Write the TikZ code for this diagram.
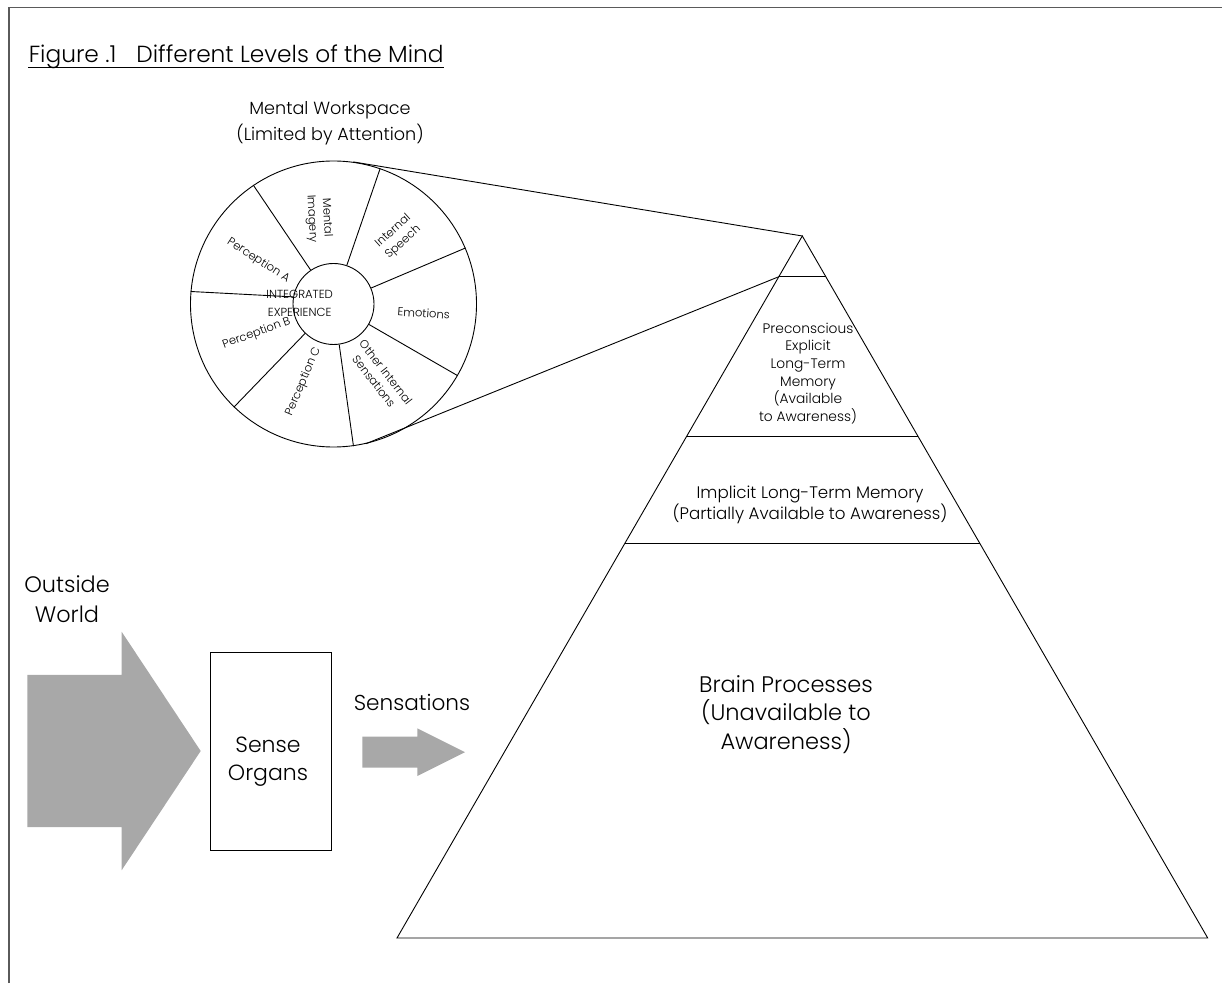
\documentclass[tikz,border=0pt]{standalone}
\usepackage{fontspec}
\setmainfont{Poppins}[UprightFont={* Light}]
\usetikzlibrary{calc}

\definecolor{arrowgray}{RGB}{168,168,168}
\definecolor{framegray}{RGB}{90,90,90}
\tikzset{
  wheeltxt/.style={font=\fontsize{11.5}{15}\selectfont, align=center, inner sep=0pt},
  blocktxt/.style={align=center, inner sep=0pt},
}

\begin{document}
\begin{tikzpicture}[x=1pt, y=1pt, line width=0.9pt]
    \useasboundingbox (0,0) rectangle (1222,983);
    % Draw frame and title
    \draw[framegray, line width=1.6pt] (9,0) -- (9,975.5) -- (1222,975.5);
    \node[anchor=base west, inner sep=0pt, font=\fontsize{23.3}{28}\selectfont] (title) at (28.3,920) {Figure .1\hspace{20pt}Different Levels of the Mind};
    \draw[line width=1.1pt] ([yshift=-4.7pt]title.base west) -- ([yshift=-4.7pt]title.base east);

    % Draw mental workspace wheel
    \node[blocktxt, font=\fontsize{17.6}{25.7}\selectfont] (workspace) at (330,860) {Mental Workspace\\(Limited by Attention)};
    \node[circle, draw, minimum size=286pt, inner sep=0pt] (outer) at (333.5,679) {};
    \node[circle, draw, minimum size=81pt, inner sep=0pt] (hub) at (333.5,679) {};
    \foreach \a in {124,71,23,330,278,226}
        \draw (hub.\a) -- (outer.\a);
    \draw (outer.175) -- (hub.170);
    \node[wheeltxt, rotate=-33] (percA) at (258.3,722.3) {Perception A};
    \node[wheeltxt, rotate=-87] (imagery) at (319,764.7) {Mental\\Imagery};
    \node[wheeltxt, rotate=42] (speech) at (398.3,746.3) {Internal\\Speech};
    \node[wheeltxt, rotate=-4] (emotions) at (423.7,669.7) {Emotions};
    \node[wheeltxt, rotate=-52] (other) at (380,606.3) {Other Internal\\Sensations};
    \node[wheeltxt, rotate=67] (percC) at (303.3,601.3) {Perception C};
    \node[wheeltxt, rotate=20] (percB) at (256.7,649.7) {Perception B};
    \node[wheeltxt, font=\fontsize{11.7}{17.3}\selectfont] (integ) at (299.7,679.7) {INTEGRATED\\EXPERIENCE};

    % Draw pyramid of levels
    \coordinate (apex) at (802.3,747);
    \coordinate (bl) at (397,45);
    \coordinate (br) at (1207.7,45);
    \draw (apex) -- (bl) -- (br) -- cycle;
    \foreach \t [count=\i] in {0.058,0.2853,0.4377}
        \draw ($(apex)!\t!(bl)$) coordinate (lft\i) -- ($(apex)!\t!(br)$) coordinate (rgt\i);
    \draw (outer.82) -- (apex);
    \draw (outer.283) -- (lft1);
    \node[blocktxt, font=\fontsize{13.8}{17.7}\selectfont] (precon) at (808,609.5) {Preconscious\\Explicit\\Long-Term\\Memory\\(Available\\to Awareness)};
    \node[blocktxt, font=\fontsize{16.7}{21.7}\selectfont] (implicit) at (810,478) {Implicit Long-Term Memory\\(Partially Available to Awareness)};
    \node[blocktxt, font=\fontsize{22.5}{28.3}\selectfont] (brain) at (786,268.5) {Brain Processes\\(Unavailable to\\Awareness)};

    % Draw outside world and senses
    \node[blocktxt, font=\fontsize{22.4}{30}\selectfont] (world) at (67,384) {Outside\\World};
    \fill[arrowgray] (27.3,308.2) -- (121.7,308.2) -- (121.7,351.2) -- (200.7,232) -- (121.7,112.8) -- (121.7,155.8) -- (27.3,155.8) -- cycle;
    \node[draw, minimum width=121.7pt, minimum height=197.3pt, inner sep=0pt] (sense) at (270.85,231.65) {};
    \node[blocktxt, font=\fontsize{22}{28}\selectfont] (sensetxt) at (268,221) {Sense\\Organs};
    \node[inner sep=0pt, font=\fontsize{21.6}{26}\selectfont] (sensations) at (412,281) {Sensations};
    \fill[arrowgray] (362.3,246.3) -- (417.3,246.3) -- (417.3,254.7) -- (465,230.8) -- (417.3,207) -- (417.3,215.3) -- (362.3,215.3) -- cycle;
\end{tikzpicture}
\end{document}
